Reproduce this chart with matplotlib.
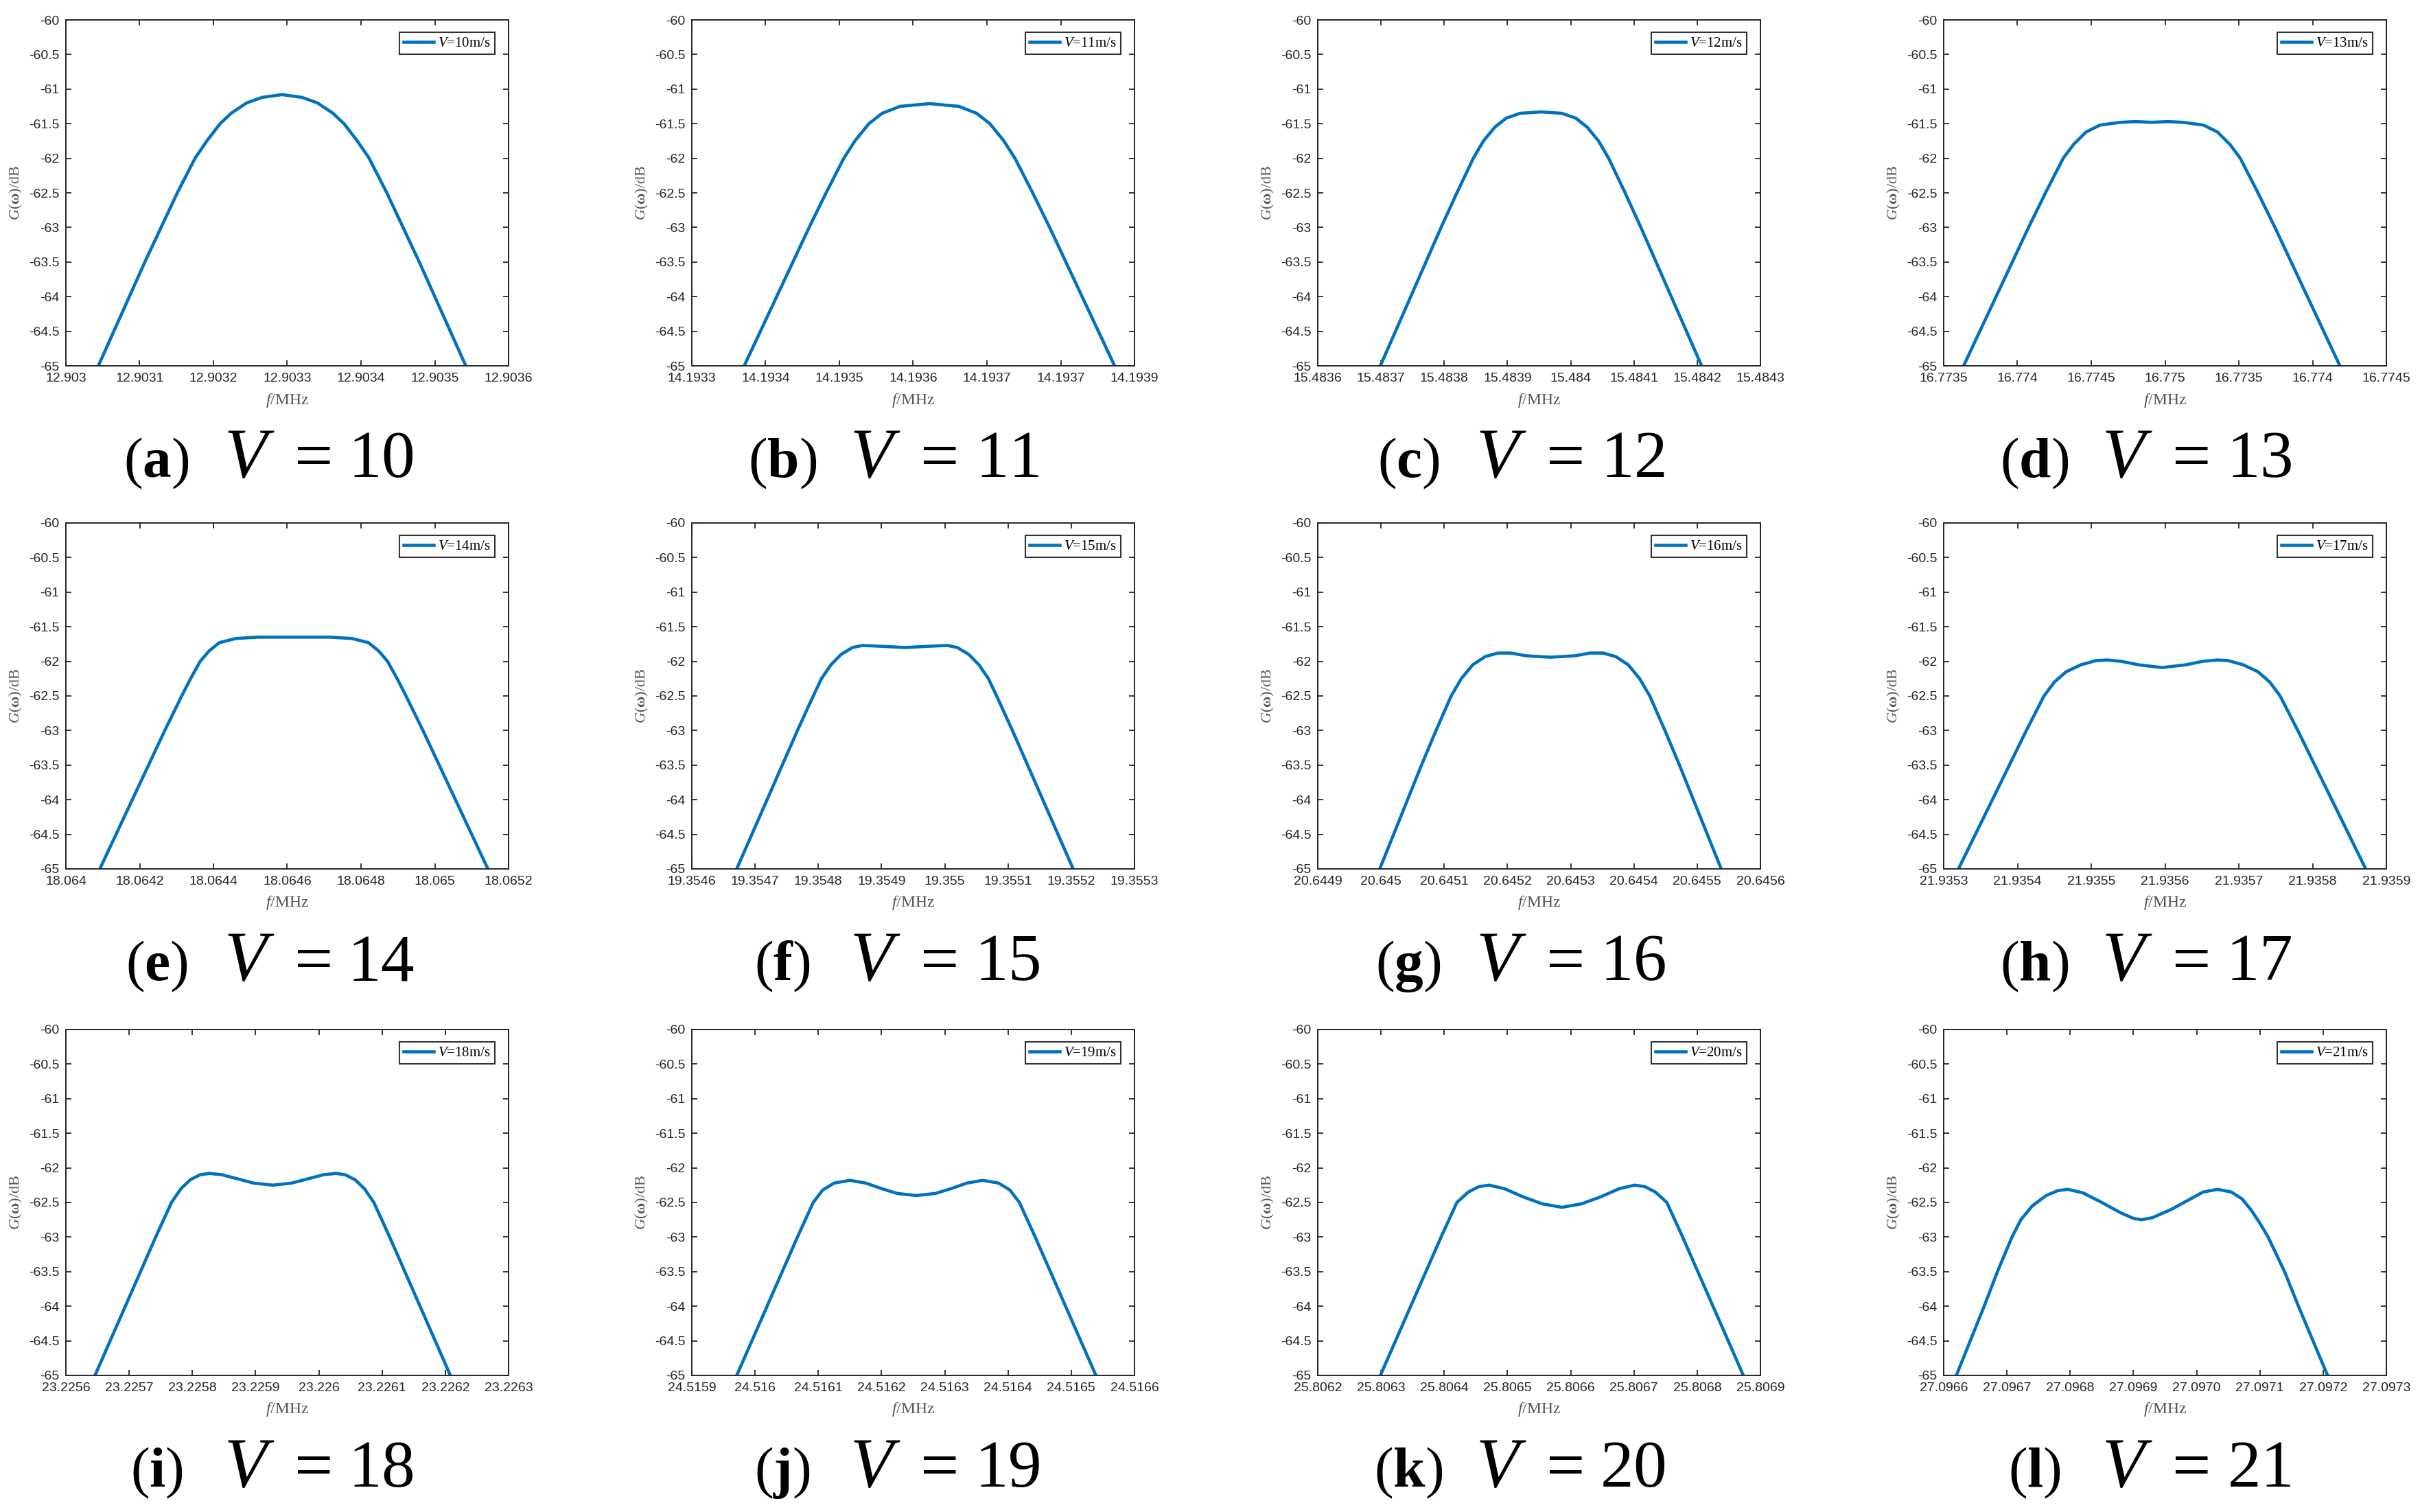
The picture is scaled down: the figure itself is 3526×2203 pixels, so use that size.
import numpy as np
import matplotlib
matplotlib.use('Agg')
import matplotlib.pyplot as plt

plt.rcParams['mathtext.fontset'] = 'custom'
plt.rcParams['mathtext.rm'] = 'Liberation Serif'
plt.rcParams['mathtext.it'] = 'Liberation Serif:italic'
plt.rcParams['mathtext.bf'] = 'Liberation Serif:bold'

# ---------------- data ----------------
speeds = [10, 11, 12, 13, 14, 15, 16, 17, 18, 19, 20, 21]
letters = ['a', 'b', 'c', 'd', 'e', 'f', 'g', 'h', 'i', 'j', 'k', 'l']

f_start = [12.903, 14.1933, 15.4836, 16.7735, 18.064, 19.3546,
           20.6449, 21.9353, 23.2256, 24.5159, 25.8062, 27.0966]   # MHz
f_step_hz = [100, 100, 100, 500, 200, 100, 100, 100, 100, 100, 100, 100]
n_ticks = [7, 7, 8, 7, 7, 8, 8, 7, 8, 8, 8, 8]

xtick_labels = [
    ['12.903', '12.9031', '12.9032', '12.9033', '12.9034', '12.9035', '12.9036'],
    ['14.1933', '14.1934', '14.1935', '14.1936', '14.1937', '14.1937', '14.1939'],
    ['15.4836', '15.4837', '15.4838', '15.4839', '15.484', '15.4841', '15.4842', '15.4843'],
    ['16.7735', '16.774', '16.7745', '16.775', '16.7735', '16.774', '16.7745'],
    ['18.064', '18.0642', '18.0644', '18.0646', '18.0648', '18.065', '18.0652'],
    ['19.3546', '19.3547', '19.3548', '19.3549', '19.355', '19.3551', '19.3552', '19.3553'],
    ['20.6449', '20.645', '20.6451', '20.6452', '20.6453', '20.6454', '20.6455', '20.6456'],
    ['21.9353', '21.9354', '21.9355', '21.9356', '21.9357', '21.9358', '21.9359'],
    ['23.2256', '23.2257', '23.2258', '23.2259', '23.226', '23.2261', '23.2262', '23.2263'],
    ['24.5159', '24.516', '24.5161', '24.5162', '24.5163', '24.5164', '24.5165', '24.5166'],
    ['25.8062', '25.8063', '25.8064', '25.8065', '25.8066', '25.8067', '25.8068', '25.8069'],
    ['27.0966', '27.0967', '27.0968', '27.0969', '27.0970', '27.0971', '27.0972', '27.0973'],
]
ytick_values = [-60, -60.5, -61, -61.5, -62, -62.5, -63, -63.5, -64, -64.5, -65]
ytick_labels = ['-60', '-60.5', '-61', '-61.5', '-62', '-62.5', '-63', '-63.5', '-64', '-64.5', '-65']

# frequency offsets from the left axis limit (Hz) and spectrum G(w) (dB)
off_a = [44, 65, 86, 107, 129, 151, 163, 175, 191, 209, 224, 245, 266, 293, 320, 341, 362, 377, 395, 411, 423, 435, 457, 479, 500, 521, 542]
g_a = [-65, -64.5, -64, -63.5, -63, -62.5, -62.25, -62, -61.75, -61.5, -61.35, -61.2, -61.12, -61.08, -61.12, -61.2, -61.35, -61.5, -61.75, -62, -62.25, -62.5, -63, -63.5, -64, -64.5, -65]

off_b = [71, 93, 115, 137, 159, 182, 194, 206, 221, 240, 258, 282, 322, 362, 386, 404, 423, 438, 450, 462, 485, 507, 529, 551, 573]
g_b = [-65, -64.5, -64, -63.5, -63, -62.5, -62.25, -62, -61.75, -61.5, -61.35, -61.25, -61.21, -61.25, -61.35, -61.5, -61.75, -62, -62.25, -62.5, -63, -63.5, -64, -64.5, -65]

off_c = [99, 123, 147, 171, 195, 220, 233, 246, 262, 280, 298, 320, 353, 386, 408, 426, 444, 460, 473, 486, 511, 535, 559, 583, 607]
g_c = [-65, -64.5, -64, -63.5, -63, -62.5, -62.25, -62, -61.75, -61.55, -61.42, -61.35, -61.33, -61.35, -61.42, -61.55, -61.75, -62, -62.25, -62.5, -63, -63.5, -64, -64.5, -65]

off_d = [135, 245, 355, 465, 575, 690, 750, 810, 880, 965, 1060, 1200, 1300, 1410, 1520, 1620, 1760, 1855, 1940, 2010, 2070, 2130, 2245, 2355, 2465, 2575, 2685]
g_d = [-65, -64.5, -64, -63.5, -63, -62.5, -62.25, -62, -61.8, -61.62, -61.52, -61.48, -61.47, -61.48, -61.47, -61.48, -61.52, -61.62, -61.8, -62, -62.25, -62.5, -63, -63.5, -64, -64.5, -65]

off_e = [92, 136, 180, 224, 268, 314, 338, 364, 388, 416, 460, 520, 618, 716, 776, 820, 848, 872, 898, 922, 968, 1012, 1056, 1100, 1144]
g_e = [-65, -64.5, -64, -63.5, -63, -62.5, -62.25, -62, -61.85, -61.73, -61.67, -61.65, -61.65, -61.65, -61.67, -61.73, -61.85, -62, -62.25, -62.5, -63, -63.5, -64, -64.5, -65]

off_f = [71, 95, 119, 143, 167, 192, 205, 220, 236, 254, 270, 295, 337, 379, 404, 420, 438, 454, 469, 482, 507, 531, 555, 579, 603]
g_f = [-65, -64.5, -64, -63.5, -63, -62.5, -62.25, -62.05, -61.9, -61.8, -61.77, -61.78, -61.8, -61.78, -61.77, -61.8, -61.9, -62.05, -62.25, -62.5, -63, -63.5, -64, -64.5, -65]

off_g = [98, 120, 142, 164, 187, 211, 227, 245, 265, 285, 305, 330, 368, 406, 431, 451, 471, 491, 509, 525, 549, 572, 594, 616, 638]
g_g = [-65, -64.5, -64, -63.5, -63, -62.5, -62.25, -62.05, -61.93, -61.88, -61.88, -61.92, -61.94, -61.92, -61.88, -61.88, -61.93, -62.05, -62.25, -62.5, -63, -63.5, -64, -64.5, -65]

off_h = [20, 43, 66, 89, 112, 136, 150, 166, 186, 206, 221, 241, 264, 296, 328, 351, 371, 386, 406, 426, 442, 456, 480, 503, 526, 549, 572]
g_h = [-65, -64.5, -64, -63.5, -63, -62.5, -62.3, -62.15, -62.05, -61.99, -61.98, -62, -62.05, -62.09, -62.05, -62, -61.98, -61.99, -62.05, -62.15, -62.3, -62.5, -63, -63.5, -64, -64.5, -65]

off_i = [46, 70, 94, 118, 142, 167, 182, 197, 212, 227, 247, 272, 297, 327, 357, 382, 407, 427, 442, 457, 472, 487, 512, 536, 560, 584, 608]
g_i = [-65, -64.5, -64, -63.5, -63, -62.5, -62.3, -62.17, -62.1, -62.08, -62.1, -62.16, -62.22, -62.25, -62.22, -62.16, -62.1, -62.08, -62.1, -62.17, -62.3, -62.5, -63, -63.5, -64, -64.5, -65]

off_j = [71, 95, 119, 143, 167, 192, 207, 225, 250, 275, 300, 325, 355, 385, 410, 435, 460, 485, 503, 518, 543, 567, 591, 615, 639]
g_j = [-65, -64.5, -64, -63.5, -63, -62.5, -62.32, -62.22, -62.18, -62.22, -62.3, -62.37, -62.4, -62.37, -62.3, -62.22, -62.18, -62.22, -62.32, -62.5, -63, -63.5, -64, -64.5, -65]

off_k = [99, 123, 147, 171, 195, 220, 238, 255, 271, 295, 325, 355, 386, 417, 447, 477, 501, 517, 534, 552, 577, 601, 625, 649, 673]
g_k = [-65, -64.5, -64, -63.5, -63, -62.5, -62.35, -62.27, -62.25, -62.3, -62.42, -62.52, -62.57, -62.52, -62.42, -62.3, -62.25, -62.27, -62.35, -62.5, -63, -63.5, -64, -64.5, -65]

off_l = [20, 42, 64, 85, 108, 122, 140, 162, 180, 196, 220, 250, 280, 300, 313, 330, 360, 390, 410, 433, 455, 472, 487, 500, 513, 539, 561, 584, 607]
g_l = [-65, -64.5, -64, -63.5, -63, -62.75, -62.55, -62.4, -62.33, -62.31, -62.36, -62.5, -62.65, -62.73, -62.75, -62.72, -62.6, -62.45, -62.35, -62.31, -62.35, -62.45, -62.62, -62.8, -63, -63.5, -64, -64.5, -65]

offsets = [off_a, off_b, off_c, off_d, off_e, off_f, off_g, off_h, off_i, off_j, off_k, off_l]
gains = [g_a, g_b, g_c, g_d, g_e, g_f, g_g, g_h, g_i, g_j, g_k, g_l]

# ---------------- layout ----------------
W, H = 3526, 2203
DPI = 100
fig = plt.figure(figsize=(W / DPI, H / DPI), dpi=DPI)
fig.patch.set_facecolor('white')

col_left = [96, 1008, 1920, 2832]
row_top = [29, 762, 1500]
aw, ah = 645, 504

line_color = '#0072BD'
axis_color = '#262626'
label_color = '#555555'

for idx in range(12):
    r, c = divmod(idx, 4)
    L, T = col_left[c], row_top[r]
    ax = fig.add_axes([L / W, 1 - (T + ah) / H, aw / W, ah / H])

    step = f_step_hz[idx] * 1e-6
    f0 = f_start[idx]
    freqs = f0 + np.array(offsets[idx]) * 1e-6
    ax.plot(freqs, gains[idx], color=line_color, lw=3.3,
            label=r'$V$=%dm/s' % speeds[idx], solid_joinstyle='round')

    xt = f0 + np.arange(n_ticks[idx]) * step
    ax.set_xlim(xt[0], xt[-1])
    ax.set_ylim(-65, -60)
    ax.set_xticks(xt)
    ax.set_xticklabels(xtick_labels[idx])
    ax.set_yticks(ytick_values)
    ax.set_yticklabels(ytick_labels)

    ax.tick_params(direction='in', length=5.5, width=1.3, colors=axis_color,
                   top=True, right=True, labelsize=14, pad=7)
    for lab in ax.get_xticklabels() + ax.get_yticklabels():
        lab.set_family('Liberation Sans')
    for sp in ax.spines.values():
        sp.set_color(axis_color)
        sp.set_linewidth(1.4)

    ax.text(0.5, -50 / ah, r'$f$/MHz', transform=ax.transAxes, ha='center',
            va='center', fontsize=17, color=label_color, family='Liberation Serif')
    ax.text(-73 / aw, 0.5, r'$G(\mathbf{\omega})$/dB', transform=ax.transAxes,
            ha='center', va='center', rotation=90, fontsize=16,
            color=label_color, family='Liberation Serif')

    leg = ax.legend(loc='upper right', bbox_to_anchor=(1 - 20 / aw, 1 - 18 / ah),
                    borderaxespad=0, frameon=True, fancybox=False,
                    prop={'family': 'Liberation Serif', 'size': 15},
                    handlelength=2.1, handletextpad=0.3, borderpad=0.3)
    leg.get_frame().set_edgecolor('black')
    leg.get_frame().set_linewidth(1.5)

    # caption under each panel: "(a)  V = 10"
    yb = -162 / ah
    ax.text(0.205, yb, r'$(\mathbf{%s})$' % letters[idx], transform=ax.transAxes,
            ha='center', va='baseline', fontsize=60, color='black')
    ax.text(0.415, yb, r'$V$', transform=ax.transAxes,
            ha='center', va='baseline', fontsize=74, color='black')
    ax.text(0.545, yb, r'$=$', transform=ax.transAxes,
            ha='center', va='baseline', fontsize=72, color='black')
    ax.text(0.712, yb, r'$\mathrm{%d}$' % speeds[idx], transform=ax.transAxes,
            ha='center', va='baseline', fontsize=70, color='black')

fig.savefig('out.png', dpi=DPI, facecolor='white')
